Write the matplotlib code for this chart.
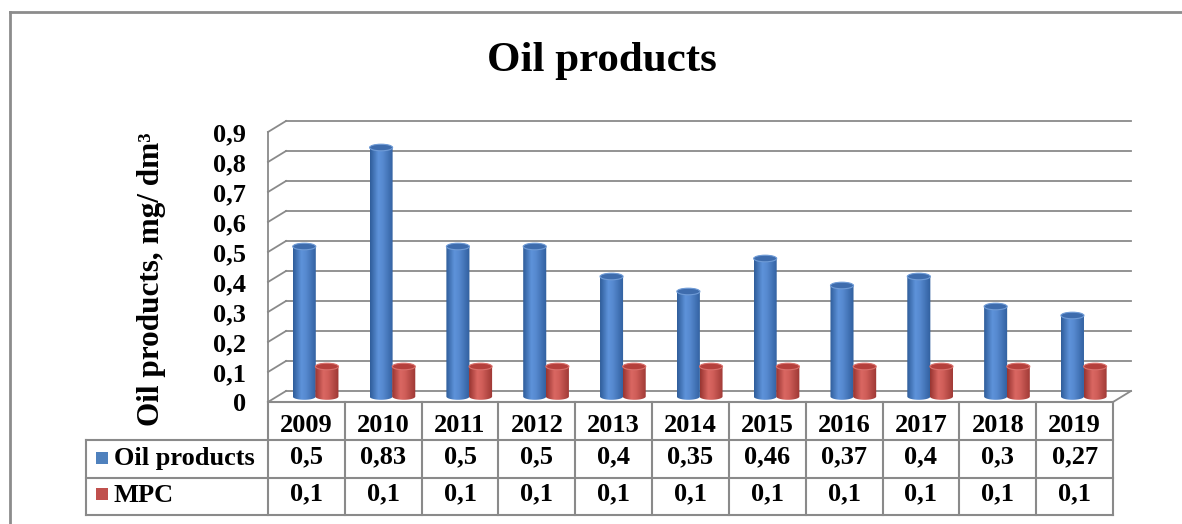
import matplotlib
matplotlib.use('Agg')
import matplotlib.pyplot as plt
import numpy as np
from matplotlib.colors import LinearSegmentedColormap
from matplotlib.patches import Ellipse, Rectangle, Polygon
from matplotlib.lines import Line2D

# ---------------- data ----------------
years = ['2009', '2010', '2011', '2012', '2013', '2014', '2015', '2016', '2017', '2018', '2019']
oil = [0.5, 0.83, 0.5, 0.5, 0.4, 0.35, 0.46, 0.37, 0.4, 0.3, 0.27]
mpc = [0.1, 0.1, 0.1, 0.1, 0.1, 0.1, 0.1, 0.1, 0.1, 0.1, 0.1]
oil_labels = ['0,5', '0,83', '0,5', '0,5', '0,4', '0,35', '0,46', '0,37', '0,4', '0,3', '0,27']
mpc_labels = ['0,1', '0,1', '0,1', '0,1', '0,1', '0,1', '0,1', '0,1', '0,1', '0,1', '0,1']
yticks = [0, 0.1, 0.2, 0.3, 0.4, 0.5, 0.6, 0.7, 0.8, 0.9]
ytick_labels = ['0', '0,1', '0,2', '0,3', '0,4', '0,5', '0,6', '0,7', '0,8', '0,9']
series_names = ['Oil products', 'MPC']
title = 'Oil products'
ylabel = 'Oil products, mg/ dm\u00b3'

# ---------------- style ----------------
FONT = 'Liberation Serif'
plt.rcParams['font.family'] = [FONT, 'DejaVu Serif']
W, H = 1182, 524
GRID = '#8a8a8a'
BLUE = '#4F81BD'
RED = '#C0504D'

fig = plt.figure(figsize=(W / 100, H / 100), dpi=100)
fig.patch.set_facecolor('white')

def fx(x):
    return x / W

def fy(y):
    return 1 - y / H

# axes = front plane of the 3D box
AX_L, AX_R, AX_B, AX_T = 268, 1113, 402, 132
ax = fig.add_axes([fx(AX_L), fy(AX_B), (AX_R - AX_L) / W, (AX_B - AX_T) / H])
ax.set_facecolor('none')
n = len(years)
ax.set_xlim(-0.5, n - 0.5)
ax.set_ylim(0, 0.9)
for s in ax.spines.values():
    s.set_visible(False)
ax.set_xticks([])
ax.set_yticks(yticks)
ax.set_yticklabels(ytick_labels, fontsize=19, fontweight='bold')
ax.tick_params(axis='y', length=0, pad=16)

# depth offset (data units) of the back wall
unit_px_x = (AX_R - AX_L) / n
unit_px_y = (AX_B - AX_T) / 0.9
DX = 18 / unit_px_x
DY = 11 / unit_px_y

# back wall gridlines and side wall diagonals
for t in yticks:
    ax.plot([-0.5 + DX, n - 0.5 + DX], [t + DY, t + DY], color=GRID, lw=1.3, zorder=1, clip_on=False)
    ax.plot([-0.5, -0.5 + DX], [t, t + DY], color=GRID, lw=1.3, zorder=1, clip_on=False)
ax.plot([-0.5, -0.5], [0, 0.9], color=GRID, lw=1.3, zorder=1, clip_on=False)
ax.plot([n - 0.5, n - 0.5 + DX], [0, DY], color=GRID, lw=1.3, zorder=1, clip_on=False)

# cylinders
blue_cmap = LinearSegmentedColormap.from_list('b', [(0, '#2F5D9A'), (0.35, '#5E93DA'), (0.55, '#5689CF'), (1, '#305F9E')])
red_cmap = LinearSegmentedColormap.from_list('r', [(0, '#983531'), (0.35, '#DA6762'), (0.55, '#D05E59'), (1, '#9C3733')])
grad = np.linspace(0, 1, 64).reshape(1, -1)
BW = 0.30
EH = 0.022

def cylinder(xc, v, cmap, topc, rimc, z):
    y0 = DY / 2
    y1 = v + DY / 2
    th = np.linspace(np.pi, 2 * np.pi, 40)
    pts = np.column_stack([xc + BW / 2 * np.cos(th), y0 + EH / 2 * np.sin(th)])
    pts = np.vstack([pts, [[xc + BW / 2, y1], [xc - BW / 2, y1]]])
    clip = Polygon(pts, closed=True, transform=ax.transData)
    im = ax.imshow(grad, extent=[xc - BW / 2, xc + BW / 2, y0 - EH / 2, y1], cmap=cmap,
                   aspect='auto', zorder=z, interpolation='bilinear')
    im.set_clip_path(clip)
    ax.add_patch(Ellipse((xc, y1), BW, EH, facecolor=topc, edgecolor=rimc, lw=0.8, zorder=z + 0.1))

for i in range(n):
    cylinder(i + DX / 2 - 0.145, oil[i], blue_cmap, '#3E6CAD', '#6F9BD6', 3)
    cylinder(i + DX / 2 + 0.15, mpc[i], red_cmap, '#B5403C', '#D9706B', 4)

ax.set_xlim(-0.5, n - 0.5)
ax.set_ylim(0, 0.9)

# ---------------- data table ----------------
def data_px(xd):
    return ax.transData.transform((xd, 0))[0]

col_edges = [data_px(i - 0.5) for i in range(n + 1)]
ROWS = [402, 440, 478, 515]
LEG_L = 86

def fline(xs, ys, **kw):
    fig.add_artist(Line2D([fx(x) for x in xs], [fy(y) for y in ys], transform=fig.transFigure,
                          color=GRID, lw=1.5, **kw))

fline([col_edges[0], col_edges[-1]], [ROWS[0], ROWS[0]])
for r in ROWS[1:]:
    fline([LEG_L, col_edges[-1]], [r, r])
for xe in col_edges:
    fline([xe, xe], [ROWS[0], ROWS[-1]])
fline([LEG_L, LEG_L], [ROWS[1], ROWS[-1]])

TFS = 19
for i in range(n):
    xc = (col_edges[i] + col_edges[i + 1]) / 2
    fig.text(fx(xc), fy(426), years[i], ha='center', va='center', fontsize=TFS, fontweight='bold')
    fig.text(fx(xc), fy(457), oil_labels[i], ha='center', va='center', fontsize=TFS, fontweight='bold')
    fig.text(fx(xc), fy(494), mpc_labels[i], ha='center', va='center', fontsize=TFS, fontweight='bold')

for name, col, yc in [(series_names[0], BLUE, 457.5), (series_names[1], RED, 494)]:
    fig.add_artist(Rectangle((fx(96), fy(yc + 6)), 12 / W, 12 / H, transform=fig.transFigure,
                             facecolor=col, edgecolor='none'))
    fig.text(fx(114), fy(yc + 1), name, ha='left', va='center', fontsize=TFS, fontweight='bold')

# ---------------- titles ----------------
fig.text(fx(602), fy(71), title, ha='center', va='baseline', fontsize=31, fontweight='bold')
fig.text(fx(152), fy(279), ylabel, ha='center', va='center', rotation=90, fontsize=22.5, fontweight='bold')

# outer frame (left and top edges)
fig.add_artist(Line2D([fx(10), fx(10)], [fy(12), 0], transform=fig.transFigure, color='#8c8c8c', lw=2))
fig.add_artist(Line2D([fx(10), 1], [fy(12), fy(12)], transform=fig.transFigure, color='#8c8c8c', lw=2))

fig.savefig('out.png', dpi=100, facecolor='white')
